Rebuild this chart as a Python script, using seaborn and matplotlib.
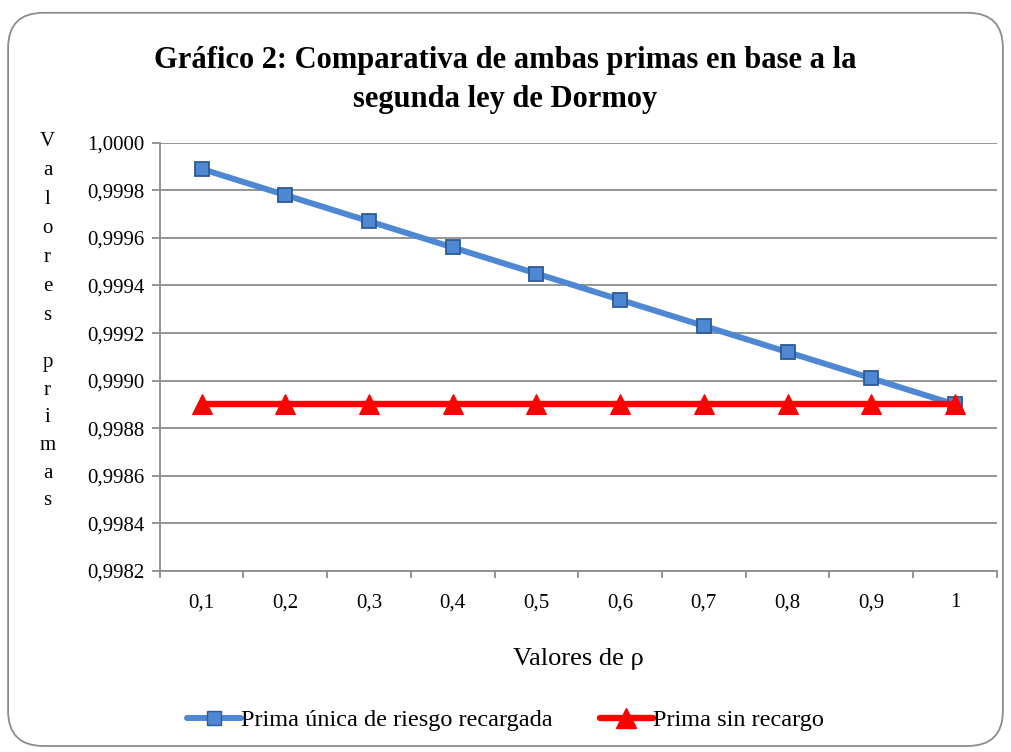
import matplotlib
matplotlib.use("Agg")
import matplotlib.pyplot as plt
import seaborn as sns
import pandas as pd
from matplotlib.patches import FancyBboxPatch
from matplotlib.ticker import FixedLocator, FuncFormatter
from matplotlib.lines import Line2D

# Datos
rho = ["0,1", "0,2", "0,3", "0,4", "0,5", "0,6", "0,7", "0,8", "0,9", "1"]
prima_recargada = [0.99989, 0.99978, 0.99967, 0.99956, 0.99945,
                   0.99934, 0.99923, 0.99912, 0.99901, 0.99890]
prima_sin_recargo = [0.99890] * 10
yticks = [0.9982, 0.9984, 0.9986, 0.9988, 0.9990,
          0.9992, 0.9994, 0.9996, 0.9998, 1.0000]

sns.set_style("white")
plt.rcParams["font.family"] = ["Liberation Serif", "DejaVu Serif"]
plt.rcParams["text.color"] = "black"
plt.rcParams["axes.labelcolor"] = "black"
plt.rcParams["xtick.labelcolor"] = "black"
plt.rcParams["ytick.labelcolor"] = "black"

fig = plt.figure(figsize=(10.11, 7.52), dpi=100)
ax = fig.add_axes([0.158, 0.2407, 0.828, 0.5695])

df = pd.DataFrame({"pos": range(len(rho)),
                   "recargada": prima_recargada,
                   "sin_recargo": prima_sin_recargo})

azul = "#4f88d2"
rojo = "#ff0000"
sns.lineplot(data=df, x="pos", y="recargada", ax=ax, color=azul, lw=4.3,
             marker="s", markersize=10.5, markerfacecolor=azul,
             markeredgecolor="#2c5a96", markeredgewidth=1.3, zorder=3)
sns.lineplot(data=df, x="pos", y="sin_recargo", ax=ax, color=rojo, lw=4.6,
             marker="^", markersize=15, markerfacecolor=rojo,
             markeredgecolor=rojo, zorder=4)

ax.set_xlim(-0.5, len(rho) - 0.5)
ax.set_ylim(0.9982, 1.0000)
ax.yaxis.set_major_locator(FixedLocator(yticks))
ax.yaxis.set_major_formatter(FuncFormatter(lambda v, p: f"{v:.4f}".replace(".", ",")))
ax.set_xticks(range(len(rho)))
ax.set_xticklabels(rho)
ax.set_xticks([i - 0.5 for i in range(len(rho) + 1)], minor=True)

ax.grid(axis="y", color="#8c8c8c", lw=1.3)
ax.set_axisbelow(True)
for s in ["top", "right"]:
    ax.spines[s].set_visible(False)
for s in ["left", "bottom"]:
    ax.spines[s].set_color("#8c8c8c")
    ax.spines[s].set_linewidth(1.3)

ax.tick_params(axis="y", which="major", direction="out", length=6, width=1.3,
               color="#8c8c8c", labelsize=15, pad=5, left=True)
ax.tick_params(axis="x", which="major", length=0, labelsize=15, pad=16)
ax.tick_params(axis="x", which="minor", direction="out", length=5, width=1.3,
               color="#8c8c8c", bottom=True)
ax.set_xlabel("Valores de ρ", fontsize=19, labelpad=26)
ax.set_ylabel("")

fig.text(0.5, 0.939, "Gráfico 2: Comparativa de ambas primas en base a la\nsegunda ley de Dormoy",
         ha="center", va="top", fontsize=22, fontweight="bold", linespacing=1.45)

# etiqueta vertical del eje Y (letras apiladas)
fig.text(0.047, 0.8245, "\n".join("Valores"), ha="center", va="top",
         fontsize=15, linespacing=1.72)
fig.text(0.047, 0.5306, "\n".join("primas"), ha="center", va="top",
         fontsize=15, linespacing=1.62)

handles = [
    Line2D([], [], color=azul, lw=4.3, marker="s", markersize=10.5,
           markerfacecolor=azul, markeredgecolor="#2c5a96"),
    Line2D([], [], color=rojo, lw=4.6, marker="^", markersize=15,
           markerfacecolor=rojo, markeredgecolor=rojo),
]
fig.legend(handles, ["Prima única de riesgo recargada", "Prima sin recargo"],
           loc="center", bbox_to_anchor=(0.5, 0.042), ncol=2, frameon=False,
           fontsize=17.5, handlelength=2.2, handletextpad=0.0, columnspacing=1.95)

marco = FancyBboxPatch((0.008, 0.008), 0.984, 0.975, transform=fig.transFigure,
                       boxstyle="round,pad=0,rounding_size=0.035",
                       fc="none", ec="#8c8c8c", lw=1.3, mutation_aspect=1.34)
fig.patches.append(marco)

fig.savefig("out.png", dpi=100)
